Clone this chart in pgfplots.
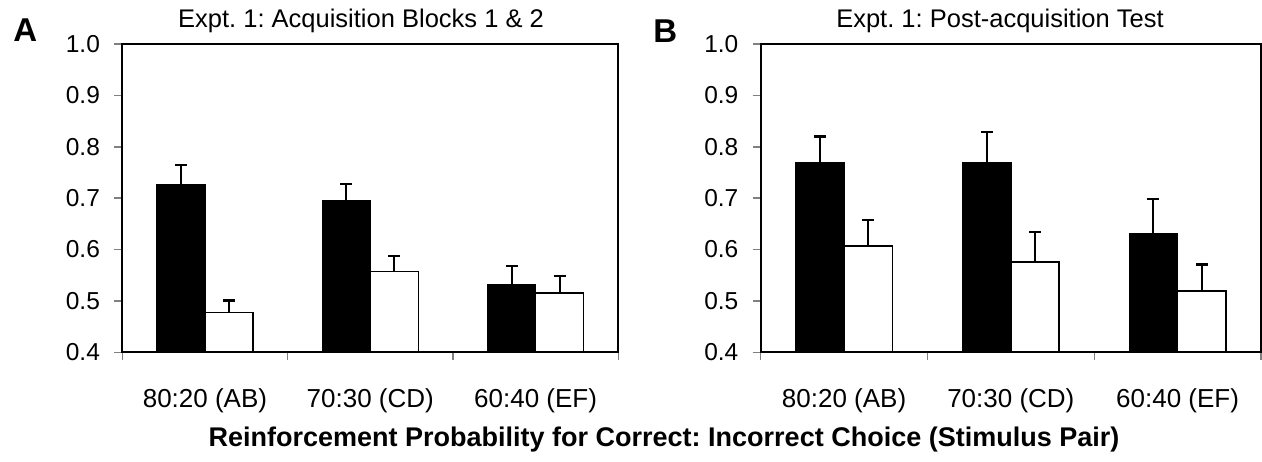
\documentclass[border=0pt]{standalone}
\usepackage{fontspec}
\setmainfont{Liberation Sans}
\usepackage{pgfplots}
\usepackage{pgfplotstable}
\pgfplotsset{compat=1.18}
\frenchspacing

% Expt. 1, acquisition blocks 1 & 2: x, mean, SEM
\pgfplotstableread{
x y e
1 0.727 0.037
2 0.695 0.033
3 0.532 0.036
}\acqcor
\pgfplotstableread{
x y e
1 0.477 0.024
2 0.557 0.031
3 0.515 0.033
}\acqinc
% Expt. 1, post-acquisition test
\pgfplotstableread{
x y e
1 0.768 0.052
2 0.768 0.061
3 0.630 0.068
}\testcor
\pgfplotstableread{
x y e
1 0.607 0.050
2 0.576 0.058
3 0.519 0.052
}\testinc

\pgfplotsset{
  panel/.style={
    scale only axis, height=154.15pt,
    xmin=0.5, xmax=3.5, ymin=0.4, ymax=1.0,
    ybar, bar width=0.29,
    axis line style={line width=1pt},
    tick align=outside, xtick pos=bottom, ytick pos=left,
    ytick={0.4,0.5,0.6,0.7,0.8,0.9,1.0},
    yticklabel style={font=\fontsize{12.25}{14}\selectfont, anchor=east, inner sep=0pt, xshift=-7pt},
    /pgf/number format/.cd, fixed, fixed zerofill, precision=1, assume math mode=true,
    /pgfplots/.cd,
    major tick length=4pt, minor tick length=4pt,
    ytick style={line width=0.75pt},
    xtick={1,2,3},
    xticklabels={80:20 (AB),70:30 (CD),60:40 (EF)},
    major x tick style={draw=none},
    minor xtick={0.5,1.5,2.5,3.5},
    minor x tick style={line width=0.75pt},
    xticklabel style={font=\fontsize{13}{15}\selectfont, anchor=base, yshift=-23.35pt},
    error bars/error bar style={line width=1pt},
    error bars/error mark=|,
    error bars/error mark options={line width=1.2pt, mark size=3pt},
  },
  cor/.style={fill=black, draw=black, line width=0.75pt, bar shift=-0.145},
  inc/.style={fill=white, draw=black, line width=0.75pt, bar shift=0.145},
}

\begin{document}
\begin{tikzpicture}
\useasboundingbox (0,0) rectangle (631pt,230.5pt);

\begin{axis}[panel, width=248pt, at={(61.15pt,54.35pt)}, anchor=south west]
  \addplot[cor, error bars/.cd, y dir=plus, y explicit]
    table[x=x, y=y, y error=e] {\acqcor};
  \addplot[inc, error bars/.cd, y dir=plus, y explicit]
    table[x=x, y=y, y error=e] {\acqinc};
  \draw[line width=1.2pt] (rel axis cs:0,0) -- (rel axis cs:1,0);
\end{axis}

\begin{axis}[panel, width=250.15pt, at={(380.35pt,54.35pt)}, anchor=south west]
  \addplot[cor, error bars/.cd, y dir=plus, y explicit]
    table[x=x, y=y, y error=e] {\testcor};
  \addplot[inc, error bars/.cd, y dir=plus, y explicit]
    table[x=x, y=y, y error=e] {\testinc};
  \draw[line width=1.2pt] (rel axis cs:0,0) -- (rel axis cs:1,0);
\end{axis}

% panel letters and titles
\node[anchor=base west, inner sep=0pt, font=\fontsize{16.5}{18}\selectfont\bfseries] at (6.5pt,209.5pt) {A};
\node[anchor=base west, inner sep=0pt, font=\fontsize{16.5}{18}\selectfont\bfseries] at (326.5pt,209pt) {B};
\node[anchor=base, inner sep=0pt, font=\fontsize{12.75}{15}\selectfont] at (180.5pt,216.5pt) {Expt. 1: Acquisition Blocks 1 \& 2};
\node[anchor=base, inner sep=0pt, font=\fontsize{12.75}{15}\selectfont] at (500pt,216.5pt) {Expt. 1: Post-acquisition Test};

% common x label
\node[anchor=base, inner sep=0pt, font=\fontsize{13.5}{16}\selectfont\bfseries] at (332pt,7.5pt)
  {Reinforcement Probability for Correct: Incorrect Choice (Stimulus Pair)};
\end{tikzpicture}
\end{document}
